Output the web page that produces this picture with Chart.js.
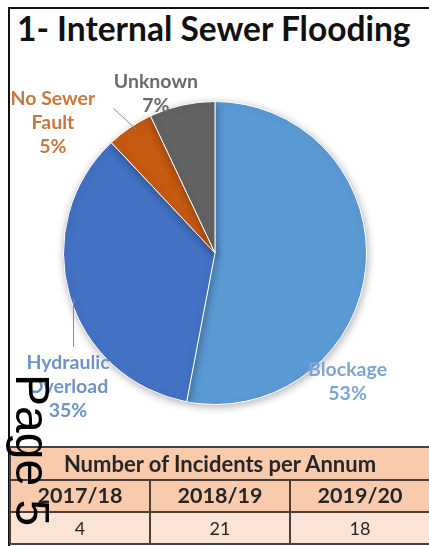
<!DOCTYPE html>
<html>
<head>
<meta charset="utf-8">
<script src="https://cdn.jsdelivr.net/npm/chart.js@4"></script>
<style>
  html, body { margin: 0; padding: 0; background: #fff; }
  body { width: 429px; height: 546px; position: relative; overflow: hidden; font-family: Lato, "Open Sans", sans-serif; }
  #frame { position: absolute; left: 8px; top: 7px; width: 430px; height: 545px; border-left: 2px solid #111; border-top: 2px solid #111; }
  #title { position: absolute; left: 17px; top: 8px; font-weight: bold; font-size: 33.5px; color: #111; white-space: nowrap; }
  #chartBox { position: absolute; left: 0; top: 0; width: 429px; height: 546px; }
  table { position: absolute; left: 9px; top: 446px; width: 422px; border-collapse: collapse; font-weight: bold; color: #262626; font-size: 22px; }
  td { border: 2px solid #4a3f3a; text-align: center; padding: 0; line-height: 1; }
  tr.head td { background: #f8cbad; height: 31px; }
  tr.years td { background: #f8cbad; height: 30px; font-size: 21.5px; }
  tr.vals td { background: #fbe4d5; height: 30px; font-size: 18px; font-weight: normal; }
  #page { position: absolute; left: 10px; top: 374px; transform-origin: 0 0; transform: translate(46px, 0) rotate(90deg); font-family: "Liberation Sans", Arial, sans-serif; font-size: 48px; color: #000; white-space: nowrap; line-height: 1; }
</style>
</head>
<body>
<div id="frame"></div>
<div id="title">1- Internal Sewer Flooding</div>
<div id="chartBox"><canvas id="pieChart"></canvas></div>
<table id="incTable"></table>
<div id="page">Page 5</div>
<script>
const categories = ['Blockage', 'Hydraulic Overload', 'No Sewer Fault', 'Unknown'];
const shares = [53, 35, 5, 7];
const years = ['2017/18', '2018/19', '2019/20'];
const incidents = [4, 21, 18];

const sliceColors = ['#5b9bd5', '#4472c4', '#c55a11', '#636363'];
const labelColors = ['#7fa5d2', '#6e93c6', '#c8783f', '#6b6b6b'];
// label block centre, as fractions of the radius from the pie centre
const labelSpots = [[0.875, 0.85], [-0.97, 0.88], [-1.07, -0.86], [-0.39, -1.05]];
// leader lines (fractions of radius)
const leaders = { 1: [[-0.934, 0.30], [-0.934, 0.62]], 2: [[-0.67, -0.955], [-0.52, -0.815]] };

function wrapLabel(s) {
    if (s.length <= 10) return [s];
    const i = s.lastIndexOf(' ');
    return [s.slice(0, i), s.slice(i + 1)];
}

// --- table ---
const tbl = document.getElementById('incTable');
tbl.innerHTML =
    '<tr class="head"><td colspan="' + years.length + '">Number of Incidents per Annum</td></tr>' +
    '<tr class="years">' + years.map(y => '<td>' + y + '</td>').join('') + '</tr>' +
    '<tr class="vals">' + incidents.map(v => '<td>' + v + '</td>').join('') + '</tr>';

const pieLabels = {
    id: 'pieLabels',
    beforeDatasetDraw(chart) {
        const ctx = chart.ctx;
        ctx.save();
        ctx.shadowColor = 'rgba(0,0,0,0.30)';
        ctx.shadowBlur = 8;
        ctx.shadowOffsetX = 1;
        ctx.shadowOffsetY = 2;
    },
    afterDatasetDraw(chart) {
        chart.ctx.restore();
    },
    afterDraw(chart) {
        const ctx = chart.ctx;
        const arc = chart.getDatasetMeta(0).data[0];
        const cx = arc.x, cy = arc.y, r = arc.outerRadius;
        ctx.save();
        ctx.strokeStyle = '#8c8c8c';
        ctx.lineWidth = 1;
        Object.values(leaders).forEach(l => {
            ctx.beginPath();
            ctx.moveTo(cx + l[0][0] * r, cy + l[0][1] * r);
            ctx.lineTo(cx + l[1][0] * r, cy + l[1][1] * r);
            ctx.stroke();
        });
        ctx.font = 'bold 19.5px Lato';
        ctx.textAlign = 'center';
        ctx.textBaseline = 'middle';
        const lh = 24;
        categories.forEach((c, i) => {
            const lines = wrapLabel(c).concat([shares[i] + '%']);
            const x = cx + labelSpots[i][0] * r;
            const y0 = cy + labelSpots[i][1] * r - (lines.length - 1) * lh / 2;
            ctx.fillStyle = labelColors[i];
            lines.forEach((t, k) => ctx.fillText(t, x, y0 + k * lh));
        });
        ctx.restore();
    }
};

new Chart(document.getElementById('pieChart'), {
    type: 'pie',
    data: {
        labels: categories,
        datasets: [{
            data: shares,
            backgroundColor: sliceColors,
            borderColor: '#ffffff',
            borderWidth: 1
        }]
    },
    options: {
        responsive: true,
        maintainAspectRatio: false,
        animation: false,
        layout: { padding: { left: 63, right: 62, top: 101, bottom: 141 } },
        plugins: { legend: { display: false }, tooltip: { enabled: false } }
    },
    plugins: [pieLabels]
});
</script>
</body>
</html>
